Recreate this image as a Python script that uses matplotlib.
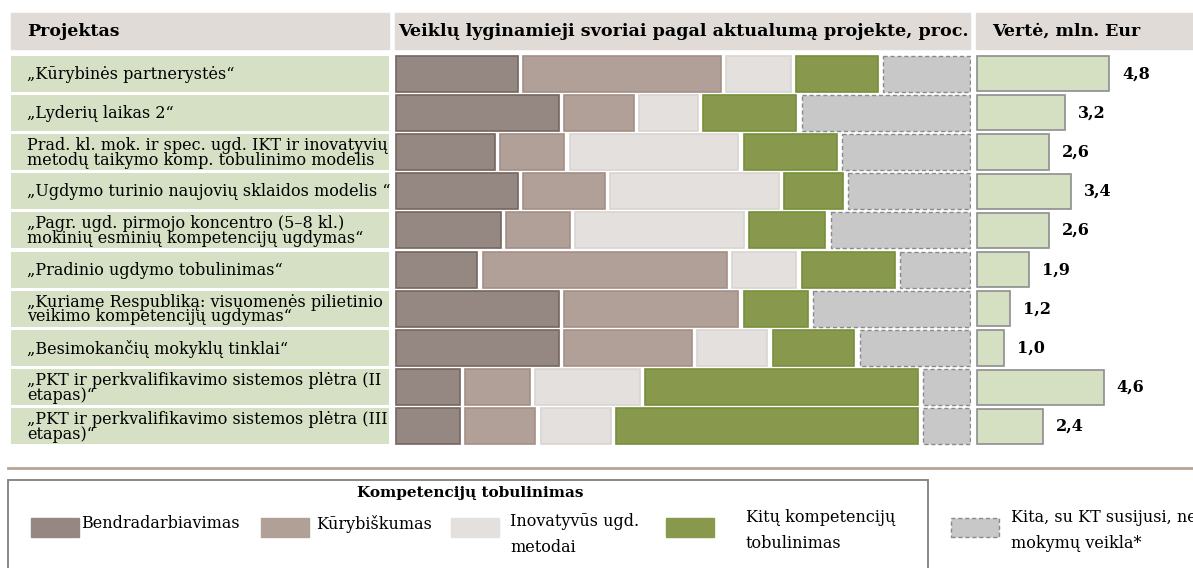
import numpy as np
import matplotlib.pyplot as plt
from matplotlib.patches import Rectangle
from matplotlib.lines import Line2D

plt.rcParams['font.family'] = ['DejaVu Serif']

projects = [
    '„Kūrybinės partnerystės“',
    '„Lyderių laikas 2“',
    'Prad. kl. mok. ir spec. ugd. IKT ir inovatyvių\nmetodų taikymo komp. tobulinimo modelis',
    '„Ugdymo turinio naujovių sklaidos modelis “',
    '„Pagr. ugd. pirmojo koncentro (5–8 kl.)\nmokinių esminių kompetencijų ugdymas“',
    '„Pradinio ugdymo tobulinimas“',
    '„Kuriame Respubliką: visuomenės pilietinio\nveikimo kompetencijų ugdymas“',
    '„Besimokančių mokyklų tinklai“',
    '„PKT ir perkvalifikavimo sistemos plėtra (II\netapas)“',
    '„PKT ir perkvalifikavimo sistemos plėtra (III\netapas)“',
]
bendradarbiavimas = [22, 29, 18, 22, 19, 15, 29, 29, 12, 12]
kurybiskumas = [35, 13, 12, 15, 12, 43, 31, 23, 12, 13]
inovatyvus = [12, 11, 30, 30, 30, 12, 0, 13, 19, 13]
kitu_komp = [15, 17, 17, 11, 14, 17, 12, 15, 48, 53]
kita = [16, 30, 23, 22, 25, 13, 28, 20, 9, 9]
verte = [4.8, 3.2, 2.6, 3.4, 2.6, 1.9, 1.2, 1.0, 4.6, 2.4]

series = [bendradarbiavimas, kurybiskumas, inovatyvus, kitu_komp, kita]
names = ['Bendradarbiavimas', 'Kūrybiškumas', 'Inovatyvūs ugd.\nmetodai',
         'Kitų kompetencijų\ntobulinimas', 'Kita, su KT susijusi, ne\nmokymų veikla*']
fills = ['#958883', '#b0a098', '#e4e0dd', '#88994e', '#c8c8c8']
edges = ['#76665f', '#a48f86', '#d9d5d1', '#77903a', '#8a8a8a']

W, H = 1193, 568
fig = plt.figure(figsize=(W / 100, H / 100), dpi=100)


def box(x0, y0, x1, y1):
    # pixel box (top-left origin) -> figure fraction rect
    return [x0 / W, 1 - y1 / H, (x1 - x0) / W, (y1 - y0) / H]


y = np.arange(len(projects))
bh = 0.92

# header cells
hdr = '#e0dbd7'
for x0, x1 in [(11, 389), (395, 970), (976, 1193)]:
    fig.add_artist(Rectangle((x0 / W, 1 - 49 / H), (x1 - x0) / W, 36 / H,
                             transform=fig.transFigure, color=hdr, zorder=0))
fig.text(27 / W, 1 - 31 / H, 'Projektas', fontsize=12.5, fontweight='bold', va='center')
fig.text(683 / W, 1 - 31 / H, 'Veiklų lyginamieji svoriai pagal aktualumą projekte, proc.',
         fontsize=12.6, fontweight='bold', va='center', ha='center')
fig.text(992 / W, 1 - 31 / H, 'Vertė, mln. Eur', fontsize=12.5, fontweight='bold', va='center')

# project names
ax_l = fig.add_axes(box(11, 54, 389, 446))
ax_l.barh(y, 1, height=bh, color='#d6e0c4')
for i, p in enumerate(projects):
    ax_l.text(0.042, i + 0.02, p, va='center', ha='left', fontsize=11.5, linespacing=0.82)
ax_l.set_xlim(0, 1)
ax_l.set_ylim(len(projects) - 0.5, -0.5)
ax_l.axis('off')

# stacked weights
gap = 0.9
ax_m = fig.add_axes(box(395, 54, 971, 446))
left = np.zeros(len(projects))
for vals, fc, ec, k in zip(series, fills, edges, range(5)):
    vals = np.array(vals, dtype=float)
    m = vals > 0
    ax_m.barh(y[m], vals[m] - gap, left=left[m] + gap / 2, height=bh, color=fc,
              edgecolor=ec, linewidth=1.2 if k < 4 else 1.0,
              linestyle='-' if k < 4 else (0, (3, 2)))
    left += vals
ax_m.set_xlim(gap / 2 - 0.1, 100 - gap / 2 + 0.1)
ax_m.set_ylim(len(projects) - 0.5, -0.5)
ax_m.axis('off')

# project value
ax_r = fig.add_axes(box(976, 54, 1193, 446))
ax_r.barh(y, verte, height=0.9, color='#d5dfc1', edgecolor='#8e8e8e', linewidth=1.2)
for i, v in enumerate(verte):
    ax_r.text(v + 0.47, i, f'{v:.1f}'.replace('.', ','), va='center', ha='left',
              fontsize=11.5, fontweight='bold')
ax_r.set_xlim(-0.03, 7.83)
ax_r.set_ylim(len(projects) - 0.5, -0.5)
ax_r.axis('off')

# legend
fig.add_artist(Line2D([8 / W, 1], [1 - 468 / H] * 2, transform=fig.transFigure,
                      color='#b5a597', lw=2))
fig.add_artist(Rectangle((8 / W, -0.05), 920 / W, 0.05 + (H - 480) / H,
                         transform=fig.transFigure, fill=False, edgecolor='#7f7f7f', lw=1.3))
fig.text(470 / W, 1 - 493 / H, 'Kompetencijų tobulinimas', fontsize=11, fontweight='bold',
         ha='center', va='center')
patch_x = [31, 261, 451, 666, 951]
text_x = [81, 316, 510, 746, 1011]
for k in range(5):
    fig.add_artist(Rectangle((patch_x[k] / W, 1 - 537 / H), 48 / W, 19 / H,
                             transform=fig.transFigure, facecolor=fills[k],
                             edgecolor=edges[k] if k == 4 else fills[k],
                             lw=1.0, linestyle=(0, (3, 2)) if k == 4 else '-'))
    lines = names[k].split('\n')
    if len(lines) == 1:
        fig.text(text_x[k] / W, 1 - 524 / H, lines[0], fontsize=11.5, va='center')
    else:
        top = 518 if k >= 3 else 522
        fig.text(text_x[k] / W, 1 - top / H, lines[0], fontsize=11.5, va='center')
        fig.text(text_x[k] / W, 1 - (top + 25) / H, lines[1], fontsize=11.5, va='center')

fig.savefig('out.png', dpi=100)
